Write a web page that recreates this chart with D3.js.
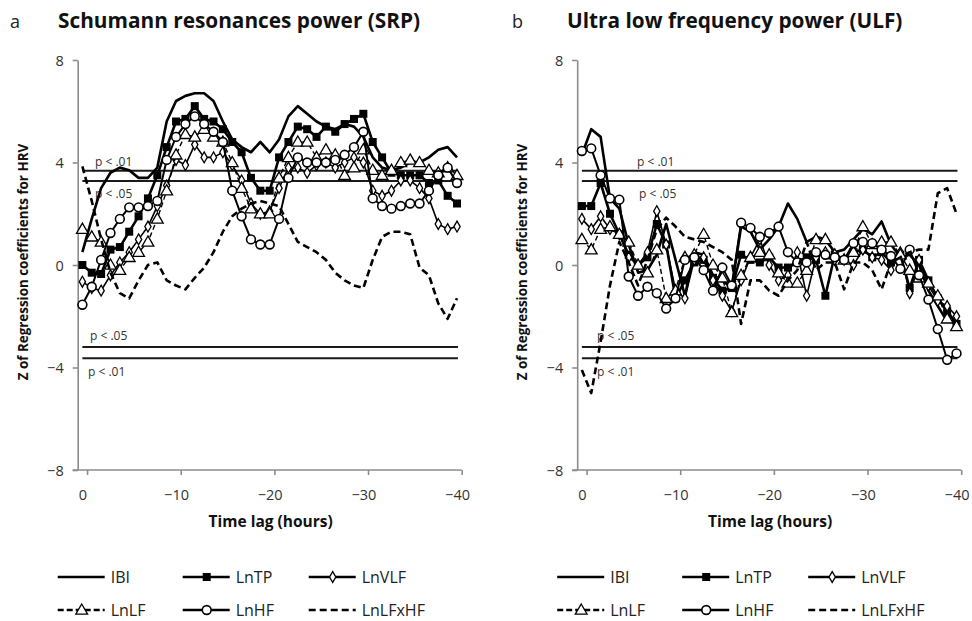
<!DOCTYPE html>
<html><head><meta charset="utf-8">
<script src="https://cdn.jsdelivr.net/npm/d3@7"></script>
<style>body{margin:0;background:#fff}svg{display:block}text{font-family:"Open Sans",sans-serif}</style>
</head><body>
<svg id="chart" width="972" height="621"></svg>
<script>
const lags = [0,-1,-2,-3,-4,-5,-6,-7,-8,-9,-10,-11,-12,-13,-14,-15,-16,-17,-18,-19,-20,-21,-22,-23,-24,-25,-26,-27,-28,-29,-30,-31,-32,-33,-34,-35,-36,-37,-38,-39,-40];
const seriesNames = ["IBI","LnTP","LnVLF","LnLF","LnHF","LnLFxHF"];
const yTicks = [8,4,0,-4,-8];
const xTicks = [0,-10,-20,-30,-40];
// thresholds: [value, label]
const thresholds = [[3.68,"p < .01"],[3.28,"p < .05"],[-3.2,"p < .05"],[-3.64,"p < .01"]];

// Panel a: Schumann resonances power (SRP)
const srpIBI    = [0.5,1.8,3.0,3.6,3.8,3.7,3.4,3.4,3.8,5.6,6.4,6.6,6.7,6.7,6.4,5.6,4.9,4.6,4.4,4.8,4.4,4.9,5.8,6.2,5.9,5.6,5.4,5.3,5.5,5.4,5.0,4.2,3.8,3.7,3.8,4.0,4.0,4.2,4.5,4.6,4.2];
const srpLnTP   = [0.0,-0.3,-0.35,0.6,0.7,1.3,1.9,2.6,3.5,4.6,5.6,5.7,6.2,5.7,5.6,5.3,4.8,4.4,3.4,2.9,2.9,4.2,4.8,5.4,5.3,5.0,5.4,5.2,5.5,5.7,5.9,4.8,4.2,3.6,3.5,3.5,3.5,3.2,3.3,2.7,2.4];
const srpLnVLF  = [-0.65,-0.9,-1.0,-0.4,0.1,0.5,1.0,1.5,2.3,3.1,4.1,3.9,4.7,4.2,4.2,4.4,3.9,3.3,2.4,2.0,2.1,3.0,3.8,3.8,3.6,3.9,4.0,3.8,4.0,4.2,4.0,2.9,2.7,2.9,3.3,3.3,3.0,2.6,1.6,1.4,1.5];
const srpLnLF   = [1.4,1.1,0.9,0.0,-0.2,0.3,0.5,0.9,1.8,2.9,4.3,5.1,5.0,5.3,5.0,4.8,4.0,3.0,2.2,2.0,2.0,3.4,4.2,4.8,4.8,4.2,4.5,4.3,3.5,3.8,4.5,3.7,3.5,3.7,4.0,4.1,4.0,3.7,3.6,3.8,3.5];
const srpLnHF   = [-1.55,-0.85,0.2,1.25,1.8,2.25,2.25,2.3,2.5,4.1,5.0,5.5,5.8,5.5,5.2,4.8,2.9,1.9,1.0,0.8,0.8,1.8,3.4,4.2,4.0,4.0,4.0,4.1,4.3,4.6,5.2,2.6,2.3,2.2,2.3,2.4,2.4,2.9,3.5,3.8,3.2];
const srpLnLFxHF= [3.85,2.5,1.0,-0.3,-1.1,-1.3,-0.6,0.0,0.1,-0.6,-0.8,-0.95,-0.5,-0.1,0.5,1.3,1.9,2.2,2.4,2.5,2.4,2.3,1.6,0.9,0.7,0.5,0.2,-0.3,-0.6,-0.8,-0.9,0.2,1.1,1.3,1.3,1.2,-0.1,-0.4,-1.5,-2.1,-1.3];

// Panel b: Ultra low frequency power (ULF)
const ulfIBI    = [4.3,5.3,5.0,2.6,2.2,0.8,-0.3,-0.2,0.4,1.6,0.2,-1.2,0.5,0.4,-0.4,-0.6,-0.9,1.5,1.3,0.6,1.0,1.5,2.4,1.8,0.9,1.1,1.0,0.5,0.6,1.0,1.4,1.2,1.7,0.8,0.3,0.4,0.0,-1.0,-1.6,-2.2,-2.2];
const ulfLnTP   = [2.3,2.3,3.2,2.0,1.2,0.4,0.0,0.3,1.6,0.8,-1.3,-0.6,0.1,0.2,-0.5,-1.0,-0.9,0.4,0.2,0.1,0.3,-0.1,-0.1,0.1,0.3,0.2,-1.2,0.4,0.2,0.5,0.6,0.3,0.5,0.1,0.4,-0.9,0.2,-0.6,-1.3,-1.8,-2.3];
const ulfLnVLF  = [1.8,1.4,1.9,1.4,1.2,0.3,0.0,0.5,2.1,0.8,-1.0,-1.3,0.2,0.3,-0.6,-1.2,-1.8,-0.6,0.3,1.0,0.0,-0.6,-0.4,0.5,-1.2,0.3,0.5,0.2,0.2,0.0,0.6,0.3,0.2,-0.2,0.5,-1.1,0.2,-0.8,-1.4,-1.6,-2.0];
const ulfLnLF   = [1.0,0.6,1.4,1.5,1.2,0.9,0.0,-0.3,0.6,-1.3,-1.0,0.3,0.4,1.2,0.0,-0.5,-1.85,-0.4,0.3,0.5,0.4,-0.3,-0.7,-0.7,-0.2,1.0,1.0,0.4,0.2,0.5,1.5,0.8,0.9,0.9,0.4,-0.2,-0.5,-0.7,-1.2,-2.1,-2.4];
const ulfLnHF   = [4.45,4.55,3.5,2.6,2.55,-0.45,-1.2,-0.85,-1.1,-1.7,-1.3,0.2,0.3,-0.2,-1.0,-0.1,-0.8,1.65,1.45,1.1,1.25,1.5,0.5,0.1,0.1,0.5,0.4,0.3,0.2,0.85,0.9,0.85,0.6,0.35,-0.15,0.6,-0.4,-1.35,-2.5,-3.7,-3.45];
const ulfLnLFxHF= [-4.1,-5.0,-3.0,-0.8,0.9,0.1,-0.8,0.2,1.4,1.85,1.5,1.1,1.0,0.9,0.7,0.5,0.2,-2.3,-0.6,-0.6,-1.0,-1.2,-0.6,-0.2,0.9,-0.2,0.1,0.1,-0.95,0.1,0.1,-0.2,-0.95,0.1,0.3,0.5,0.6,0.6,2.8,3.0,2.0];

const styles = {
  IBI:     {w:2.6, dash:null, marker:null},
  LnTP:    {w:2.6, dash:null, marker:"square"},
  LnVLF:   {w:1.6, dash:null, marker:"diamond"},
  LnLF:    {w:1.4, dash:"5,3", marker:"triangle"},
  LnHF:    {w:2.0, dash:null, marker:"circle"},
  LnLFxHF: {w:2.6, dash:"7,4", marker:null}
};
const legendStyles = {LnLF:{dash:"6,3"}, LnLFxHF:{dash:"7,4"}};

const svg = d3.select("#chart");
const y = d3.scaleLinear().domain([-8,8]).range([470,60]);

function marker(g, type, cx, cy) {
  if (type === "square") {
    g.append("rect").attr("x",cx-4).attr("y",cy-4).attr("width",8).attr("height",8).attr("fill","#000");
  } else if (type === "circle") {
    g.append("circle").attr("cx",cx).attr("cy",cy).attr("r",4.4).attr("fill","#fff").attr("stroke","#000").attr("stroke-width",1.6);
  } else if (type === "triangle") {
    g.append("path").attr("d",d3.symbol(d3.symbolTriangle, 60)()).attr("transform",`translate(${cx},${cy+0.8})`).attr("fill","#fff").attr("stroke","#000").attr("stroke-width",1.3);
  } else if (type === "diamond") {
    g.append("path").attr("d",d3.symbol(d3.symbolDiamond, 34)()).attr("transform",`translate(${cx},${cy})`).attr("fill","#fff").attr("stroke","#000").attr("stroke-width",1.3);
  }
}

function panel(opts) {
  const x = d3.scaleLinear().domain([1,-40]).range([opts.x0, opts.x0+384]);
  const g = svg.append("g");
  const px = lag => x(lag + 0.5);
  // axes
  const ax = g.append("g").attr("transform",`translate(0,${y(-8)})`)
    .call(d3.axisBottom(x).tickValues(xTicks).tickSize(5).tickSizeOuter(0).tickFormat(d3.format("d")));
  const ay = g.append("g").attr("transform",`translate(${x(1)},0)`)
    .call(d3.axisLeft(y).tickValues(yTicks).tickSize(5).tickSizeOuter(0).tickFormat(d3.format("d")));
  [ax,ay].forEach(a => {
    a.select(".domain").attr("stroke","#8c8c8c").attr("stroke-width",1.6);
    a.selectAll(".tick line").attr("stroke","#8c8c8c").attr("stroke-width",1.6);
    a.selectAll(".tick text").attr("fill","#333").style("font-size","14.5px").style("font-family","'Open Sans',sans-serif");
  });
  ax.select(".domain").attr("d",`M${x(1)-5},0H${x(-40)}`);
  // x tick labels centred on the data positions
  ax.selectAll(".tick text").attr("dy","0").attr("y",30).attr("x",d => px(d) - x(d));
  ay.selectAll(".tick text").attr("x",-14).attr("dy","0.35em");
  // thresholds
  thresholds.forEach(([v,lab],i) => {
    g.append("line").attr("x1",x(0.5)).attr("x2",x(-39.6)).attr("y1",y(v)).attr("y2",y(v))
      .attr("stroke","#1a1a1a").attr("stroke-width",2);
    const ly = i===0 ? y(v)-5 : i===1 ? y(v)+17 : i===2 ? y(v)-7 : y(v)+18;
    g.append("text").attr("x",opts.labX[i]).attr("y",ly).text(lab).attr("fill","#333").style("font-size","12px");
  });
  // series
  opts.data.forEach((vals,si) => {
    const name = seriesNames[si], st = styles[name];
    const line = d3.line().x((d,i)=>px(lags[i])).y(d=>y(d));
    g.append("path").datum(vals).attr("d",line).attr("fill","none").attr("stroke","#000")
      .attr("stroke-width",st.w).attr("stroke-dasharray",st.dash).attr("stroke-linejoin","round");
    if (st.marker) vals.forEach((v,i) => marker(g, st.marker, px(lags[i]), y(v)));
  });
  // titles
  svg.append("text").attr("x",opts.letterX).attr("y",28).text(opts.letter).style("font-size","18px").attr("fill","#222");
  svg.append("text").attr("x",opts.titleX).attr("y",28).text(opts.title).style("font-size","20.8px").style("font-weight","bold").attr("fill","#111");
  svg.append("text").attr("transform",`translate(${opts.x0-50},262) rotate(-90)`).attr("text-anchor","middle")
    .text("Z of Regression coefficients for HRV").style("font-size","13.4px").style("font-weight","bold").attr("fill","#111");
  svg.append("text").attr("x",opts.x0+193).attr("y",527).attr("text-anchor","middle").text("Time lag (hours)")
    .style("font-size","15.5px").style("font-weight","bold").attr("fill","#111");
  // legend
  const cols = [opts.x0-20, opts.x0+105, opts.x0+231];
  seriesNames.forEach((name,i) => {
    const lx = cols[i%3], ly = i<3 ? 577 : 610;
    const st = styles[name];
    const dash = legendStyles[name] ? legendStyles[name].dash : null;
    svg.append("line").attr("x1",lx).attr("x2",lx+47).attr("y1",ly).attr("y2",ly).attr("stroke","#000")
      .attr("stroke-width",2.6).attr("stroke-dasharray",dash);
    if (st.marker) marker(svg, st.marker, lx+24, ly);
    svg.append("text").attr("x",lx+53).attr("y",ly+6).text(name).style("font-size","16px").attr("fill","#222");
  });
}

panel({x0:77.7, letter:"a", letterX:10, titleX:58, title:"Schumann resonances power (SRP)",
  data:[srpIBI,srpLnTP,srpLnVLF,srpLnLF,srpLnHF,srpLnLFxHF], labX:[95,95,90,88]});
panel({x0:577.2, letter:"b", letterX:512, titleX:567, title:"Ultra low frequency power (ULF)",
  data:[ulfIBI,ulfLnTP,ulfLnVLF,ulfLnLF,ulfLnHF,ulfLnLFxHF], labX:[637,639,597,597]});
</script>
</body></html>
